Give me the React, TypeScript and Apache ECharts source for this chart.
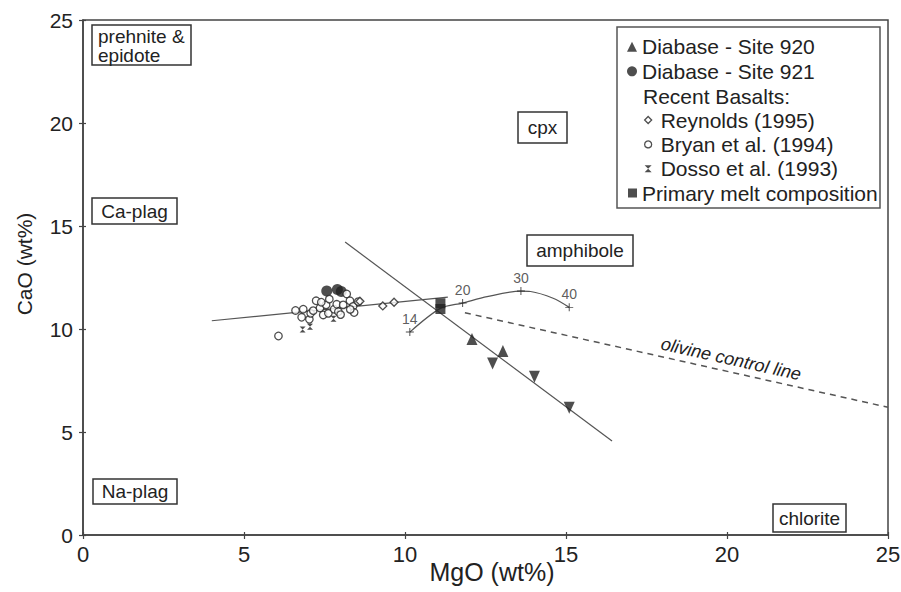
import React, { useEffect, useRef } from "react";
import * as echarts from "echarts";

// ---- data ----
const xTicks = [0, 5, 10, 15, 20, 25];
const yTicks = [0, 5, 10, 15, 20, 25];

const site920Up = [[12.08, 9.51], [13.04, 8.93]];
const site920Down = [[12.72, 8.33], [14.02, 7.68], [15.1, 6.18]];
const site921 = [[7.57, 11.85], [7.9, 11.92], [8.02, 11.82]];
const reynolds = [[8.6, 11.35], [9.31, 11.12], [9.66, 11.3]];
const bryan = [
  [6.07, 9.66], [6.6, 10.9], [6.84, 10.96], [6.79, 10.57], [7.03, 10.47],
  [7.07, 10.76], [7.24, 11.37], [7.15, 10.89], [7.36, 11.02], [7.46, 10.68],
  [7.55, 11.17], [7.65, 11.45], [7.62, 10.76], [7.8, 10.96], [7.88, 11.2],
  [7.93, 10.84], [8.08, 11.17], [8.0, 10.7], [8.19, 11.7], [8.29, 11.37],
  [8.39, 11.1], [8.42, 10.8], [8.55, 11.33], [8.3, 10.95], [7.4, 11.3],
];
const dosso = [[6.82, 9.98], [7.05, 10.11], [7.78, 10.5]];
const primaryMelt = [[11.1, 11.25], [11.1, 10.97]];
const trendLine = [[4, 10.4], [11.33, 11.55]];
const mixingCurve = [
  [10.15, 9.85], [11.1, 11.0], [11.79, 11.26], [12.55, 11.57], [13.6, 11.84],
  [13.9, 11.82], [14.6, 11.49], [15.1, 11.05],
];
const mixingTicks = [[10.15, 9.85], [11.79, 11.26], [13.6, 11.84], [15.1, 11.05]];
const mixingLabels = ["14", "20", "30", "40"];
const olivineLine = [[11.86, 10.79], [25, 6.2]];
const diabaseLine = [[8.14, 14.22], [16.43, 4.56]];

const FONT = '"Liberation Sans", Arial, sans-serif';
const INK = "#222";
const LINE = "#555";
const PLUS = "path://M0,4.4H10V5.6H0Z M4.4,0H5.6V10H4.4Z";
const HOURGLASS = "path://M0,0H10L0,10H10Z";

function boxLabel(x: number, y: number, w: number, h: number, text: string, align = "center") {
  return [
    {
      type: "rect",
      shape: { x, y, width: w, height: h },
      style: { fill: "#fff", stroke: "#333", lineWidth: 1.5 },
      z: 1,
    },
    {
      type: "text",
      x: align === "center" ? x + w / 2 : x + 6,
      y: align === "center" ? y + h / 2 : y + 2,
      style: {
        text,
        font: `19px ${FONT}`,
        fill: INK,
        lineHeight: 19,
        textAlign: align,
        align,
        textVerticalAlign: align === "center" ? "middle" : "top",
        verticalAlign: align === "center" ? "middle" : "top",
      },
      z: 2,
    },
  ];
}

export default function App() {
  const ref = useRef<HTMLDivElement>(null);
  useEffect(() => {
    if (!ref.current) return;
    const chart = echarts.init(ref.current, undefined, { renderer: "svg" });
    const openStyle = { color: "#fff", borderColor: INK, borderWidth: 1.3 };
    const legendText = { fontSize: 21, fontFamily: FONT, color: INK, lineHeight: 24 };
    const innerTickAxis = {
      type: "value", min: 0, max: 25, interval: 5,
      axisLine: { show: false },
      axisTick: { show: true, inside: true, length: 3, lineStyle: { color: "#444", width: 1.2 } },
      axisLabel: { show: false },
      splitLine: { show: false },
    };
    const option: any = {
      animation: false,
      backgroundColor: "#fff",
      grid: {
        left: 83, right: 13, top: 20, bottom: 57,
        containLabel: false, outerBoundsMode: "none",
        show: true, borderColor: "#444", borderWidth: 1.5,
      },
      xAxis: [
        {
          type: "value", min: xTicks[0], max: xTicks[xTicks.length - 1], interval: 5,
          name: "MgO (wt%)", nameLocation: "middle", nameGap: 24, nameMoveOverlap: false,
          nameTextStyle: { fontSize: 25, fontFamily: FONT, color: INK, padding: [0, 0, 0, 13] },
          axisLine: { lineStyle: { color: "#444", width: 1.5 } },
          axisTick: { length: 4, lineStyle: { color: "#444", width: 1.2 } },
          axisLabel: { fontSize: 22, fontFamily: FONT, color: INK, margin: 8 },
          splitLine: { show: false },
        },
        { ...innerTickAxis, position: "bottom", offset: 0 },
      ],
      yAxis: [
        {
          type: "value", min: yTicks[0], max: yTicks[yTicks.length - 1], interval: 5,
          name: "CaO (wt%)", nameLocation: "middle", nameGap: 48, nameMoveOverlap: false,
          nameTextStyle: { fontSize: 21, fontFamily: FONT, color: INK, padding: [0, 0, 0, 27] },
          axisLine: { lineStyle: { color: "#444", width: 1.5 } },
          axisTick: { length: 4, lineStyle: { color: "#444", width: 1.2 } },
          axisLabel: { fontSize: 21, fontFamily: FONT, color: INK, margin: 10 },
          splitLine: { show: false },
        },
        { ...innerTickAxis, position: "left", offset: 0 },
      ],
      legend: [
        {
          orient: "vertical", left: 627, top: 34.7, padding: 0, itemWidth: 10, itemHeight: 10, itemGap: 0.6,
          selectedMode: false, textStyle: legendText,
          data: [
            { name: "Diabase - Site 920", icon: "triangle", itemStyle: { color: INK, borderWidth: 0 } },
            { name: "Diabase - Site 921", icon: "circle", itemStyle: { color: INK, borderWidth: 0 } },
          ],
        },
        {
          orient: "vertical", left: 644, top: 108, padding: 0, itemWidth: 7, itemHeight: 7, itemGap: 0.4,
          selectedMode: false, textStyle: { ...legendText, padding: [0, 0, 0, 4] },
          data: [
            { name: "Reynolds (1995)", icon: "diamond", itemStyle: openStyle },
            { name: "Bryan et al. (1994)", icon: "circle", itemStyle: openStyle },
            { name: "Dosso et al. (1993)", icon: HOURGLASS, itemStyle: { color: INK, borderWidth: 0 } },
          ],
        },
        {
          orient: "vertical", left: 628, top: 181, padding: 0, itemWidth: 9, itemHeight: 9, itemGap: 0,
          selectedMode: false, textStyle: legendText,
          data: [{ name: "Primary melt composition", icon: "rect", itemStyle: { color: INK, borderWidth: 0 } }],
        },
      ],
      graphic: [
        {
          type: "rect", shape: { x: 617, y: 27, width: 263, height: 181 },
          style: { fill: "#fff", stroke: "#555", lineWidth: 1.5 }, z: 0,
        },
        {
          type: "text", x: 643, y: 96,
          style: {
            text: "Recent Basalts:", font: `21px ${FONT}`, fill: INK,
            textVerticalAlign: "middle", verticalAlign: "middle",
          },
          z: 3,
        },
        ...boxLabel(92, 25, 99, 40, "prehnite &\nepidote", "left"),
        ...boxLabel(92, 198, 85, 26, "Ca-plag"),
        ...boxLabel(518, 112, 49, 31, "cpx"),
        ...boxLabel(527, 235, 106, 31, "amphibole"),
        ...boxLabel(93, 479, 84, 25, "Na-plag"),
        ...boxLabel(773, 504, 73, 28, "chlorite"),
        {
          type: "text", x: 731, y: 359, rotation: -0.22,
          style: {
            text: "olivine control line", font: `italic 18px ${FONT}`, fill: INK,
            textAlign: "center", align: "center", textVerticalAlign: "middle", verticalAlign: "middle",
          },
          z: 3,
        },
      ],
      series: [
        {
          name: "trend", type: "line", data: trendLine, showSymbol: false, symbol: "none",
          lineStyle: { color: LINE, width: 1.2 }, z: 2,
        },
        {
          name: "mixing", type: "line", data: mixingCurve, smooth: 0.3, symbol: "none",
          lineStyle: { color: LINE, width: 1.2 }, z: 2,
        },
        {
          name: "mixing ticks", type: "scatter", data: mixingTicks, symbol: PLUS, symbolSize: 8,
          itemStyle: { color: INK }, z: 3,
          label: {
            show: true, position: "top", distance: 2, fontSize: 14, fontFamily: FONT, color: "#333",
            formatter: (p: any) => mixingLabels[p.dataIndex],
          },
        },
        {
          name: "olivine control line", type: "line", data: olivineLine, symbol: "none",
          lineStyle: { color: LINE, width: 1.5, type: [6, 5] }, z: 2,
        },
        {
          name: "diabase trend", type: "line", data: diabaseLine, symbol: "none",
          lineStyle: { color: LINE, width: 1.2 }, z: 2,
        },
        {
          name: "Diabase - Site 921", type: "scatter", data: site921, symbol: "circle", symbolSize: 11,
          itemStyle: { color: INK }, z: 3,
        },
        {
          name: "Bryan et al. (1994)", type: "scatter", data: bryan, symbol: "circle", symbolSize: 7.5,
          itemStyle: openStyle, z: 4,
        },
        {
          name: "Reynolds (1995)", type: "scatter", data: reynolds, symbol: "diamond", symbolSize: 8,
          itemStyle: openStyle, z: 4,
        },
        {
          name: "Dosso et al. (1993)", type: "scatter", data: dosso, symbol: HOURGLASS, symbolSize: 6,
          itemStyle: { color: INK }, z: 4,
        },
        {
          name: "Diabase - Site 920", type: "scatter", data: site920Up, symbol: "triangle", symbolSize: [11, 12],
          itemStyle: { color: INK }, z: 4,
        },
        {
          name: "Diabase - Site 920 (inverted)", type: "scatter", data: site920Down, symbol: "triangle",
          symbolSize: [11, 12], symbolRotate: 180, itemStyle: { color: INK }, z: 4,
        },
        {
          name: "Primary melt composition", type: "scatter", data: primaryMelt, symbol: "rect", symbolSize: 10,
          itemStyle: { color: INK }, z: 5,
        },
      ],
    };
    chart.setOption(option);
    return () => chart.dispose();
  }, []);
  return (
    <div
      ref={ref}
      style={{ position: "absolute", left: 0, top: 0, width: 901, height: 592, background: "#fff" }}
    />
  );
}
